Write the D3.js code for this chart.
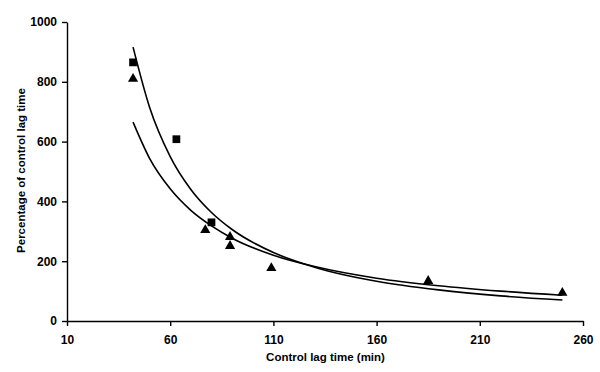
<!DOCTYPE html>
<html lang="en">
<head>
    <meta charset="UTF-8">
    <title>Percentage of control lag time</title>
    <script src="https://cdn.jsdelivr.net/npm/d3@7"></script>
    <style>
        body { margin: 0; background: #fff; }
        svg { display: block; font-family: "Liberation Sans", Arial, sans-serif; }
        .axis text { font-size: 12px; font-weight: bold; fill: #000; }
        .axis path, .axis line { stroke: #000; stroke-width: 1.4px; }
    </style>
</head>
<body>
    <svg width="600" height="372"></svg>
    <script>
        // data
        var xTicks = [10, 60, 110, 160, 210, 260];
        var yTicks = [0, 200, 400, 600, 800, 1000];

        var squareX = [42, 63, 80];
        var squareY = [865, 608, 330];

        var triangleX = [42, 77, 89, 89, 109, 185, 250];
        var triangleY = [810, 304, 281, 251, 177, 134, 94];

        // fitted curves
        var fitX = [42, 50, 60, 70, 80, 90, 110, 130, 160, 190, 220, 250];
        var squareFitY = [916, 715, 550, 440, 363, 306, 229, 180, 133, 104, 84, 70];
        var triangleFitY = [665, 544, 442, 370, 318, 277, 220, 182, 143, 118, 100, 86];

        var svg = d3.select('svg');
        var margin = { left: 67, right: 17, top: 22, bottom: 51 };
        var width = 600 - margin.left - margin.right;
        var height = 372 - margin.top - margin.bottom;

        var g = svg.append('g')
            .attr('transform', 'translate(' + margin.left + ',' + margin.top + ')');

        var x = d3.scaleLinear().domain([10, 260]).range([0, width]);
        var y = d3.scaleLinear().domain([0, 1000]).range([height, 0]);

        g.append('g')
            .attr('class', 'axis')
            .attr('transform', 'translate(0,' + height + ')')
            .call(d3.axisBottom(x).tickValues(xTicks).tickFormat(d3.format('d'))
                .tickSize(5).tickSizeOuter(0).tickPadding(9));

        g.append('g')
            .attr('class', 'axis')
            .call(d3.axisLeft(y).tickValues(yTicks).tickFormat(d3.format('d'))
                .tickSize(5).tickSizeOuter(0).tickPadding(5));

        // axis titles
        g.append('text')
            .attr('x', width / 2 + 0.5)
            .attr('y', height + 40)
            .attr('text-anchor', 'middle')
            .style('font-size', '11.5px')
            .style('font-weight', 'bold')
            .text('Control lag time (min)');

        g.append('text')
            .attr('transform', 'translate(-42,' + (height / 2 - 1) + ') rotate(-90)')
            .attr('text-anchor', 'middle')
            .style('font-size', '11.5px')
            .style('font-weight', 'bold')
            .text('Percentage of control lag time');

        // fit lines
        var line = d3.line()
            .x(function (d) { return x(d[0]); })
            .y(function (d) { return y(d[1]); })
            .curve(d3.curveMonotoneX);

        [squareFitY, triangleFitY].forEach(function (ys) {
            g.append('path')
                .datum(fitX.map(function (v, i) { return [v, ys[i]]; }))
                .attr('d', line)
                .attr('fill', 'none')
                .attr('stroke', '#000')
                .attr('stroke-width', 1.6);
        });

        // markers
        var sq = d3.symbol().type(d3.symbolSquare).size(60);
        var tri = d3.symbol().type(d3.symbolTriangle).size(45);

        g.selectAll('.sq')
            .data(squareX.map(function (v, i) { return [v, squareY[i]]; }))
            .enter().append('path')
            .attr('class', 'sq')
            .attr('d', sq)
            .attr('transform', function (d) { return 'translate(' + x(d[0]) + ',' + y(d[1]) + ')'; })
            .attr('fill', '#000');

        g.selectAll('.tri')
            .data(triangleX.map(function (v, i) { return [v, triangleY[i]]; }))
            .enter().append('path')
            .attr('class', 'tri')
            .attr('d', tri)
            .attr('transform', function (d) { return 'translate(' + x(d[0]) + ',' + y(d[1]) + ')'; })
            .attr('fill', '#000');
    </script>
</body>
</html>
